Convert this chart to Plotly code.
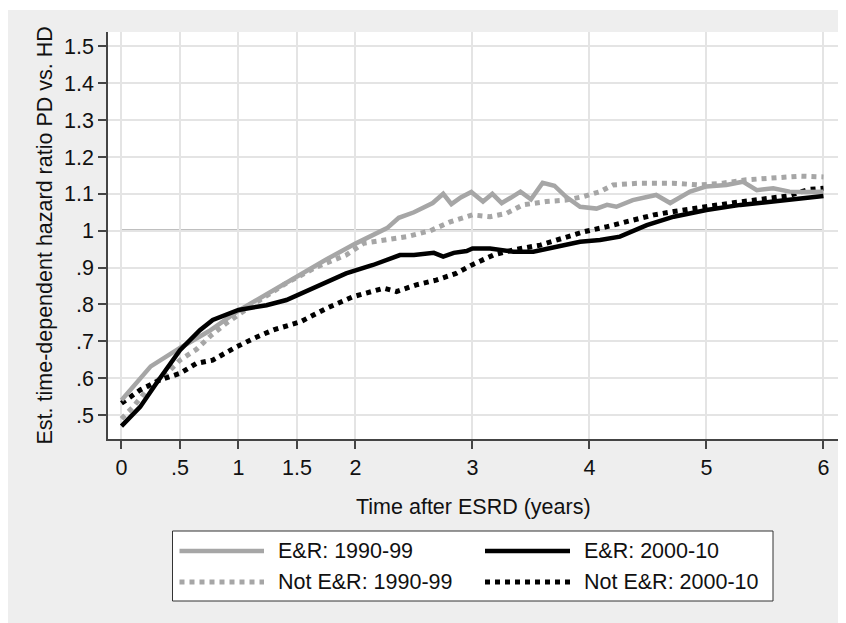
import plotly.graph_objects as go

# ---------------- data ----------------
er9099_t = [0, 0.1, 0.25, 0.5, 0.75, 1.0, 1.25, 1.5, 1.75, 2.0, 2.15, 2.27, 2.37, 2.5, 2.66, 2.75,
            2.82, 2.9, 2.99, 3.09, 3.17, 3.25, 3.33, 3.41, 3.5, 3.6, 3.7, 3.8, 3.92, 4.06, 4.15,
            4.23, 4.37, 4.47, 4.57, 4.69, 4.78, 4.86, 5.0, 5.17, 5.31, 5.43, 5.57, 5.71, 5.85, 6.0]
er9099_v = [0.54, 0.575, 0.632, 0.682, 0.728, 0.783, 0.83, 0.875, 0.922, 0.965, 0.99, 1.007, 1.035,
            1.05, 1.075, 1.10, 1.072, 1.09, 1.105, 1.079, 1.10, 1.075, 1.09, 1.106, 1.085, 1.13,
            1.122, 1.092, 1.065, 1.06, 1.07, 1.065, 1.083, 1.09, 1.097, 1.075, 1.09, 1.106, 1.12,
            1.124, 1.133, 1.11, 1.115, 1.106, 1.105, 1.106]

er0010_t = [0, 0.16, 0.3, 0.5, 0.67, 0.78, 1.0, 1.24, 1.41, 1.67, 1.92, 2.15, 2.38, 2.5, 2.67,
            2.75, 2.84, 2.95, 3.0, 3.15, 3.35, 3.52, 3.72, 3.92, 4.09, 4.26, 4.49, 4.72, 5.0,
            5.29, 5.57, 5.8, 6.0]
er0010_v = [0.47, 0.522, 0.587, 0.676, 0.73, 0.758, 0.785, 0.798, 0.812, 0.848, 0.884, 0.907,
            0.934, 0.934, 0.94, 0.93, 0.94, 0.945, 0.952, 0.952, 0.943, 0.943, 0.957, 0.97,
            0.975, 0.984, 1.015, 1.038, 1.056, 1.07, 1.079, 1.087, 1.094]

ner9099_t = [0, 0.1, 0.24, 0.39, 0.5, 0.64, 0.77, 0.9, 1.16, 1.41, 1.67, 1.92, 2.07, 2.24, 2.44,
             2.64, 2.81, 2.95, 3.0, 3.15, 3.29, 3.43, 3.63, 3.8, 3.94, 4.09, 4.2, 4.43, 4.71,
             4.94, 5.14, 5.34, 5.57, 5.8, 6.0]
ner9099_v = [0.49, 0.522, 0.577, 0.614, 0.649, 0.678, 0.717, 0.75, 0.807, 0.858, 0.902, 0.934,
             0.966, 0.975, 0.984, 1.0, 1.024, 1.038, 1.043, 1.038, 1.047, 1.07, 1.079, 1.083,
             1.092, 1.106, 1.124, 1.129, 1.129, 1.124, 1.129, 1.138, 1.142, 1.148, 1.146]

ner0010_t = [0, 0.16, 0.33, 0.5, 0.64, 0.78, 0.96, 1.13, 1.3, 1.53, 1.75, 1.98, 2.24, 2.35, 2.52,
             2.69, 2.86, 3.0, 3.18, 3.35, 3.58, 3.78, 3.95, 4.15, 4.32, 4.55, 4.72, 4.94, 5.23,
             5.46, 5.69, 5.88, 6.0]
ner0010_v = [0.532, 0.568, 0.595, 0.613, 0.64, 0.649, 0.681, 0.708, 0.731, 0.753, 0.789, 0.821,
             0.844, 0.835, 0.853, 0.866, 0.884, 0.908, 0.934, 0.948, 0.961, 0.979, 0.997, 1.011,
             1.024, 1.043, 1.052, 1.063, 1.076, 1.085, 1.094, 1.112, 1.115]

x_tickvals = [0, 0.5, 1, 1.5, 2, 3, 4, 5, 6]
x_ticktext = ["0", ".5", "1", "1.5", "2", "3", "4", "5", "6"]
y_tickvals = [0.5, 0.6, 0.7, 0.8, 0.9, 1.0, 1.1, 1.2, 1.3, 1.4, 1.5]
y_ticktext = [".5", ".6", ".7", ".8", ".9", "1", "1.1", "1.2", "1.3", "1.4", "1.5"]

series_names = ["E&R: 1990-99", "E&R: 2000-10", "Not E&R: 1990-99", "Not E&R: 2000-10"]

# ---------------- styling ----------------
GRAY = "#a6a6a6"
BLACK = "#000000"
BG = "#eeeeee"
FONT = "Liberation Sans, Arial, sans-serif"
FS = 21.5
TXT = "#111111"

# page offset caused by the default 8px body margin of the html page
OX, OY = 8, 8
W, H = 846 - OX, 623 - OY + 1
# plot rectangle in page pixels
PL, PT, PR, PB = 108, 32, 838, 439
ML, MT = PL - OX, PT - OY
MR = W - (PR - OX)
MB = H - (PB - OY)
PW = PR - PL
PH = PB - PT


def px(xp):  # page x -> paper
    return (xp - PL) / PW


def py(yp):  # page y -> paper
    return (PB - yp) / PH


fig = go.Figure()
fig.add_trace(go.Scatter(x=ner9099_t, y=ner9099_v, mode="lines", name=series_names[2],
                         line=dict(color=GRAY, width=5, dash="dot")))
fig.add_trace(go.Scatter(x=ner0010_t, y=ner0010_v, mode="lines", name=series_names[3],
                         line=dict(color=BLACK, width=5, dash="dot")))
fig.add_trace(go.Scatter(x=er9099_t, y=er9099_v, mode="lines", name=series_names[0],
                         line=dict(color=GRAY, width=4.5)))
fig.add_trace(go.Scatter(x=er0010_t, y=er0010_v, mode="lines", name=series_names[1],
                         line=dict(color=BLACK, width=4.5)))

shapes = []
# reference line at HR = 1
shapes.append(dict(type="line", xref="x", yref="y", x0=0, x1=6, y0=1, y1=1,
                   line=dict(color=BLACK, width=2), layer="below"))
# thin white frame around the gray graph region (top and right)
shapes.append(dict(type="rect", xref="paper", yref="paper", x0=px(0), x1=px(850), y0=py(10), y1=py(0),
                   fillcolor="white", line=dict(width=0)))
shapes.append(dict(type="rect", xref="paper", yref="paper", x0=px(842), x1=px(850), y0=py(630), y1=py(0),
                   fillcolor="white", line=dict(width=0)))
# legend box
shapes.append(dict(type="rect", xref="paper", yref="paper", x0=px(172.5), x1=px(773), y0=py(601), y1=py(531),
                   fillcolor="white", line=dict(color="#333333", width=1)))
# legend samples
leg = [
    (series_names[0], 179.5, 264, 276, 551, GRAY, 4.5, "solid"),
    (series_names[1], 485, 570, 581.5, 551, BLACK, 4.5, "solid"),
    (series_names[2], 179.5, 264, 276, 582, GRAY, 5, "dot"),
    (series_names[3], 485, 570, 581.5, 582, BLACK, 5, "dot"),
]
annotations = []
for name, x0, x1, xt, yy, col, wd, dash in leg:
    shapes.append(dict(type="line", xref="paper", yref="paper", x0=px(x0), x1=px(x1), y0=py(yy), y1=py(yy),
                       line=dict(color=col, width=wd, dash=dash)))
    annotations.append(dict(xref="paper", yref="paper", x=px(xt), y=py(yy), text=name, showarrow=False,
                            xanchor="left", yanchor="middle", font=dict(family=FONT, size=FS, color=TXT)))

# axis titles
annotations.append(dict(xref="paper", yref="paper", x=0.5, y=py(507), text="Time after ESRD (years)",
                        showarrow=False, xanchor="center", yanchor="middle",
                        font=dict(family=FONT, size=FS, color=TXT)))
annotations.append(dict(xref="paper", yref="paper", x=px(44), y=0.5,
                        text="Est. time-dependent hazard ratio PD vs. HD", textangle=-90,
                        showarrow=False, xanchor="center", yanchor="middle",
                        font=dict(family=FONT, size=FS, color=TXT)))

fig.update_layout(
    width=W, height=H, autosize=False,
    margin=dict(l=ML, r=MR, t=MT, b=MB, pad=0),
    paper_bgcolor=BG, plot_bgcolor="white",
    showlegend=False,
    shapes=shapes, annotations=annotations,
    font=dict(family=FONT, size=FS, color=TXT),
    xaxis=dict(range=[-0.115, 6.124], tickvals=x_tickvals, ticktext=x_ticktext,
               showgrid=True, gridcolor="#e4e4e4", gridwidth=1.5, zeroline=False,
               showline=True, linecolor="#444444", linewidth=1.5, mirror=False,
               ticks="outside", ticklen=8, tickwidth=1.5, tickcolor="#444444",
               tickfont=dict(family=FONT, size=FS, color=TXT), automargin=False),
    yaxis=dict(range=[0.435, 1.539], tickvals=y_tickvals, ticktext=y_ticktext,
               showgrid=True, gridcolor="#e4e4e4", gridwidth=1.5, zeroline=False,
               showline=True, linecolor="#444444", linewidth=1.5, mirror=False,
               ticks="outside", ticklen=8, tickwidth=1.5, tickcolor="#444444",
               tickfont=dict(family=FONT, size=FS, color=TXT), automargin=False),
)

fig.write_html("out.html")
